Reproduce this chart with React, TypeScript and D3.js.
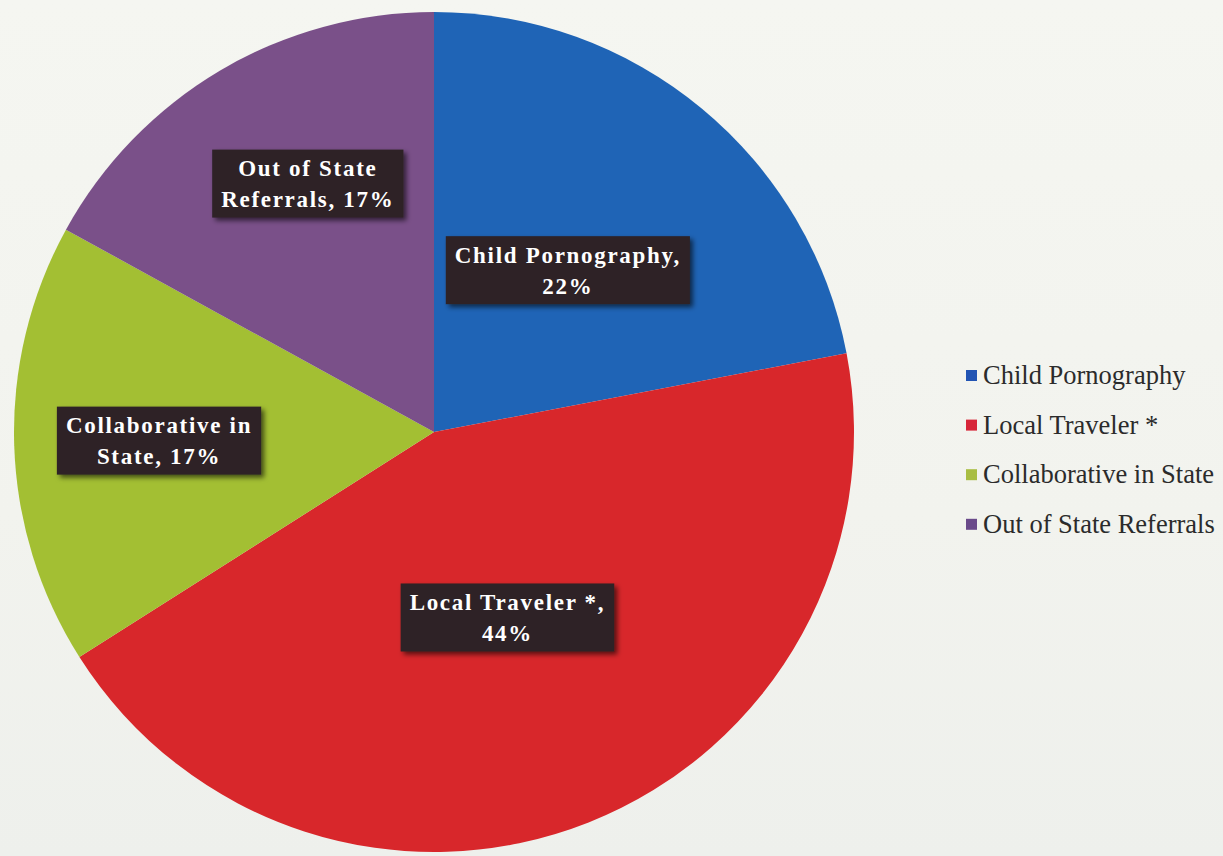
import React, { useEffect, useRef } from "react";
import * as d3 from "d3";

const categories = ["Child Pornography", "Local Traveler *", "Collaborative in State", "Out of State Referrals"];
const values = [22, 44, 17, 17];
const sliceLabels = [
  ["Child Pornography,", "22%"],
  ["Local Traveler *,", "44%"],
  ["Collaborative in", "State, 17%"],
  ["Out of State", "Referrals, 17%"],
];
const colors = ["#1f64b6", "#d8272b", "#a3bf33", "#7a5089"];
const legendColors = ["#2254b3", "#d72639", "#a8bd42", "#6a4a8a"];

const W = 1223;
const H = 856;
const cx = 434;
const cy = 432;
const radius = 420;
// how far out each label sits, as a fraction of the radius, plus a small nudge
const labelFactor = [0.5, 0.475, 0.655, 0.665];
const labelNudge = [[0, 0], [0, 0], [0, 0], [16, -8]];

export default function App() {
  const ref = useRef<SVGSVGElement>(null);

  useEffect(() => {
    const svg = d3.select(ref.current);
    svg.selectAll("*").remove();

    const defs = svg.append("defs");
    const bg = defs.append("linearGradient").attr("id", "bg").attr("x1", 0).attr("y1", 0).attr("x2", 0).attr("y2", 1);
    bg.append("stop").attr("offset", "0%").attr("stop-color", "#f5f6f1");
    bg.append("stop").attr("offset", "60%").attr("stop-color", "#f2f3ee");
    bg.append("stop").attr("offset", "100%").attr("stop-color", "#eef0ec");

    const shadow = defs.append("filter").attr("id", "shadow").attr("x", "-10%").attr("y", "-10%").attr("width", "130%").attr("height", "140%");
    shadow.append("feDropShadow").attr("dx", 3).attr("dy", 3).attr("stdDeviation", 2.5).attr("flood-color", "#000").attr("flood-opacity", 0.6);

    svg.append("rect").attr("width", W).attr("height", H).attr("fill", "url(#bg)");

    const pie = d3.pie<number>().sort(null).value((d) => d);
    const arcs = pie(values);
    const arc = d3.arc<d3.PieArcDatum<number>>().innerRadius(0).outerRadius(radius);

    const g = svg.append("g").attr("transform", `translate(${cx},${cy})`);
    g.selectAll("path")
      .data(arcs)
      .join("path")
      .attr("d", arc)
      .attr("fill", (_, i) => colors[i]);

    // data labels
    arcs.forEach((a, i) => {
      const mid = (a.startAngle + a.endAngle) / 2;
      const r = radius * labelFactor[i];
      const x = r * Math.sin(mid) + labelNudge[i][0];
      const y = -r * Math.cos(mid) + labelNudge[i][1];
      const lg = g.append("g").attr("transform", `translate(${x},${y})`);
      const box = lg.append("rect").attr("fill", "#2d2327").attr("filter", "url(#shadow)");
      const text = lg
        .append("text")
        .attr("text-anchor", "middle")
        .attr("font-family", "'Liberation Serif', 'Times New Roman', serif")
        .attr("font-weight", "bold")
        .attr("font-size", 23)
        .attr("letter-spacing", 1.7)
        .attr("fill", "#ffffff");
      sliceLabels[i].forEach((line, j) => {
        text
          .append("tspan")
          .attr("x", 0)
          .attr("y", (j - 0.5) * 31)
          .attr("dy", "0.35em")
          .text(line);
      });
      const bb = (text.node() as SVGTextElement).getBBox();
      box
        .attr("x", bb.x - 9)
        .attr("y", -34)
        .attr("width", bb.width + 18)
        .attr("height", 68);
    });

    // legend
    const legend = svg.append("g").attr("transform", "translate(966,375)");
    categories.forEach((c, i) => {
      const row = legend.append("g").attr("transform", `translate(0,${i * 49.6})`);
      row.append("rect").attr("x", 0).attr("y", -5).attr("width", 11).attr("height", 11).attr("fill", legendColors[i]);
      row
        .append("text")
        .attr("x", 17)
        .attr("dy", "0.35em")
        .attr("font-family", "'Liberation Serif', 'Times New Roman', serif")
        .attr("font-size", 26.5)
        .attr("fill", "#2b2b2b")
        .text(c);
    });
  }, []);

  return (
    <svg
      ref={ref}
      width={W}
      height={H}
      style={{ position: "absolute", left: 0, top: 0, display: "block" }}
    />
  );
}
